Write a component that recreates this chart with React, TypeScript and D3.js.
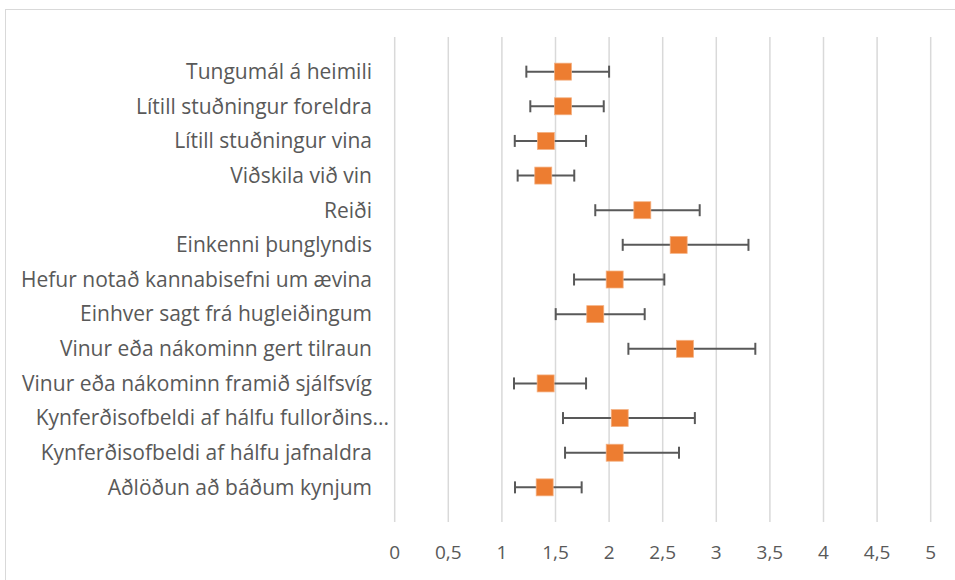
import React from "react";
import * as d3 from "d3";

const categories = [
  "Tungumál á heimili",
  "Lítill stuðningur foreldra",
  "Lítill stuðningur vina",
  "Viðskila við vin",
  "Reiði",
  "Einkenni þunglyndis ",
  "Hefur notað kannabisefni um ævina",
  "Einhver sagt frá hugleiðingum",
  "Vinur eða nákominn gert tilraun",
  "Vinur eða nákominn framið sjálfsvíg",
  "Kynferðisofbeldi af hálfu fullorðins...",
  "Kynferðisofbeldi af hálfu jafnaldra",
  "Aðlöðun að báðum kynjum",
];
const means = [1.57, 1.57, 1.41, 1.386, 2.31, 2.649, 2.052, 1.871, 2.708, 1.408, 2.099, 2.052, 1.399];
const lower = [1.228, 1.265, 1.12, 1.147, 1.871, 2.127, 1.673, 1.502, 2.18, 1.113, 1.57, 1.589, 1.122];
const upper = [2.0, 1.95, 1.785, 1.675, 2.845, 3.30, 2.515, 2.332, 3.364, 1.785, 2.80, 2.652, 1.744];
const xTicks = [0, 0.5, 1, 1.5, 2, 2.5, 3, 3.5, 4, 4.5, 5];

const W = 955;
const H = 580;

export default function App() {
  const x = d3.scaleLinear().domain([0, 5]).range([394.7, 930.7]);
  const y = d3.scaleLinear().domain([0, 14]).range([522, 37]);
  const fmt = (v: number) => String(v).replace(".", ",");
  const n = categories.length;
  const pos = (i: number) => y(n - i);
  const font = "'Open Sans', 'Liberation Sans', sans-serif";
  return (
    <svg width={W} height={H} style={{ position: "absolute", left: 0, top: 0, background: "#fff" }}>
      <rect x={5.5} y={9.5} width={W} height={H} fill="#fff" stroke="#d9d9d9" strokeWidth={1} />
      {xTicks.map((t) => (
        <line key={"g" + t} x1={x(t)} x2={x(t)} y1={37} y2={522} stroke="#d9d9d9" strokeWidth={1.5} />
      ))}
      {xTicks.map((t) => (
        <text key={"t" + t} x={x(t)} y={559} textAnchor="middle" fontFamily={font} fontSize={19} fill="#595959">
          {fmt(t)}
        </text>
      ))}
      {categories.map((c, i) => (
        <text
          key={"c" + i}
          x={i === 10 ? 389 : 372}
          y={pos(i)}
          dy="0.35em"
          textAnchor="end"
          fontFamily={font}
          fontSize={21}
          fill="#595959"
        >
          {c}
        </text>
      ))}
      {categories.map((c, i) => {
        const cy = pos(i);
        return (
          <g key={"e" + i} stroke="#595959" strokeWidth={2}>
            <line x1={x(lower[i])} x2={x(upper[i])} y1={cy} y2={cy} />
            <line x1={x(lower[i])} x2={x(lower[i])} y1={cy - 6} y2={cy + 6} />
            <line x1={x(upper[i])} x2={x(upper[i])} y1={cy - 6} y2={cy + 6} />
          </g>
        );
      })}
      {categories.map((c, i) => {
        const cy = pos(i);
        const s = 17;
        return (
          <rect
            key={"m" + i}
            x={x(means[i]) - s / 2}
            y={cy - s / 2}
            width={s}
            height={s}
            fill="#ED7D31"
            stroke="#F4B183"
            strokeWidth={0.75}
          />
        );
      })}
    </svg>
  );
}
